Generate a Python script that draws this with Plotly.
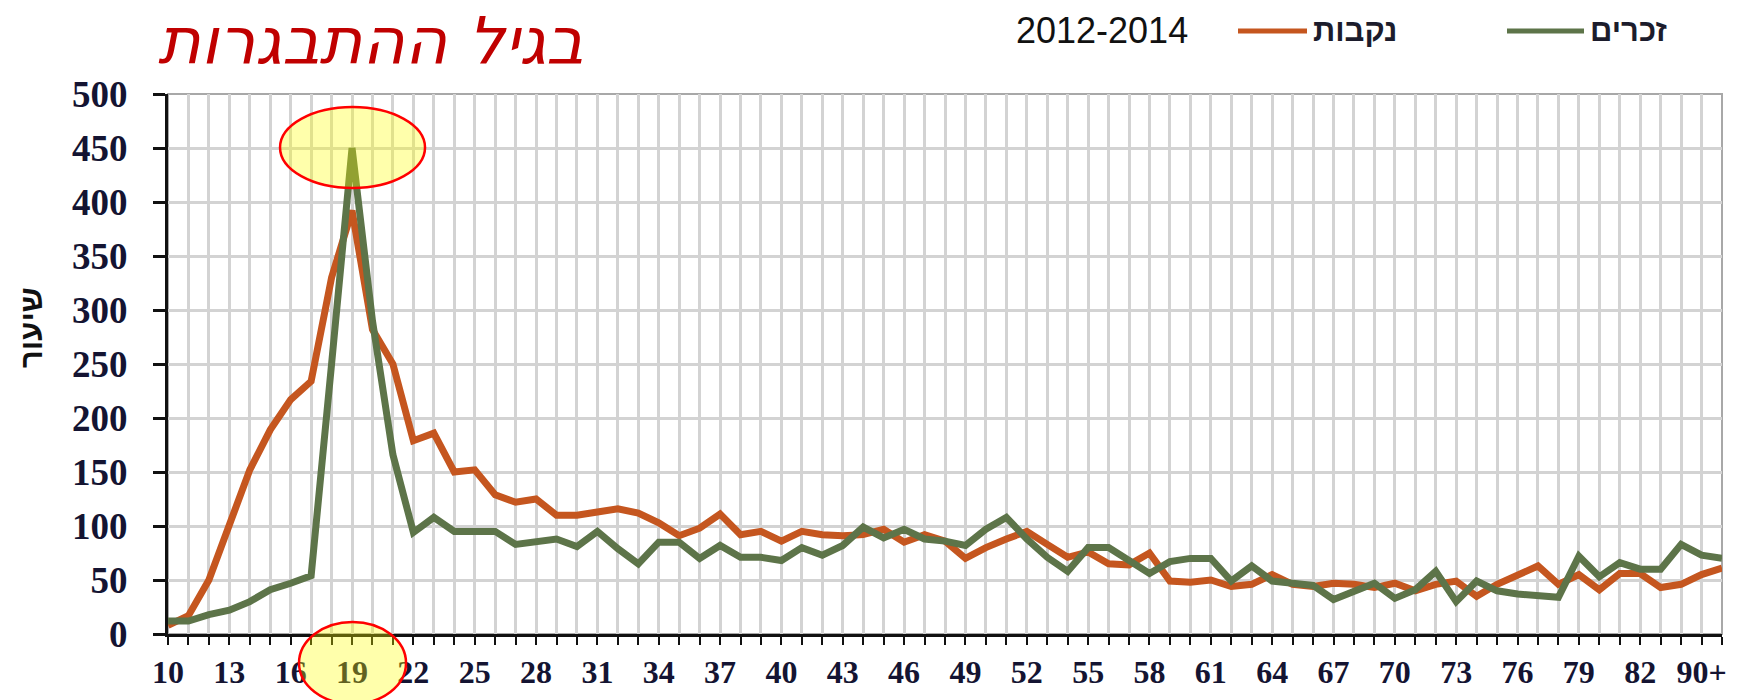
import plotly.graph_objects as go

# --- data -------------------------------------------------------------
ages = ["10", "11", "12", "13", "14", "15", "16", "17", "18", "19",
        "20", "21", "22", "23", "24", "25", "26", "27", "28", "29",
        "30", "31", "32", "33", "34", "35", "36", "37", "38", "39",
        "40", "41", "42", "43", "44", "45", "46", "47", "48", "49",
        "50", "51", "52", "53", "54", "55", "56", "57", "58", "59",
        "60", "61", "62", "63", "64", "65", "66", "67", "68", "69",
        "70", "71", "72", "73", "74", "75", "76", "77", "78", "79",
        "80", "81", "82", "83", "84", "90+", ""]

females = [8, 17, 50, 103, 152, 189, 217, 234, 330, 392,
           282, 250, 179, 186, 150, 152, 129, 122, 125, 110,
           110, 113, 116, 112, 103, 91, 98, 111, 92, 95,
           86, 95, 92, 91, 92, 97, 85, 92, 86, 70,
           80, 88, 95, 83, 71, 76, 65, 64, 75, 49,
           48, 50, 44, 46, 55, 46, 44, 47, 46, 43,
           47, 40, 46, 49, 35, 46, 54, 63, 46, 55,
           41, 56, 56, 43, 46, 55, 61]

males = [12, 12, 18, 22, 30, 41, 47, 54, 250, 450,
         290, 166, 94, 108, 95, 95, 95, 83, 85, 88,
         81, 95, 79, 65, 85, 85, 70, 82, 71, 71,
         68, 80, 73, 82, 99, 89, 97, 88, 86, 82,
         97, 108, 88, 71, 58, 80, 80, 68, 56, 67,
         70, 70, 49, 63, 49, 47, 45, 32, 40, 47,
         33, 41, 58, 30, 49, 40, 37, 35, 34, 72,
         53, 66, 60, 60, 83, 73, 70]

tick_labels = ["10", "13", "16", "19", "22", "25", "28", "31", "34", "37",
               "40", "43", "46", "49", "52", "55", "58", "61", "64", "67",
               "70", "73", "76", "79", "82", "90+"]
tick_every = 3

series_names = ["נקבות", "זכרים"]
period_label = "2012-2014"
title_text = "בגיל ההתבגרות"
y_title = "שיעור"
y_range = [0, 500]
y_step = 50

# --- styles -----------------------------------------------------------
ORANGE = "#C5561F"
GREEN = "#5D7449"
TICK_FONT = "Liberation Serif"
W, H = 1737, 700
ML, MR, MT, MB = 168, 15, 94, 66
PW, PH = W - ML - MR, H - MT - MB


def px_x(px):
    return (px - ML) / PW


def px_y(py):
    return (H - MB - py) / PH


x_idx = list(range(len(ages)))
tick_vals = [x_idx[i * tick_every] for i in range(len(tick_labels))]

fig = go.Figure()
colors = [ORANGE, GREEN]
for name, vals, col in zip(series_names, [females, males], colors):
    fig.add_trace(go.Scatter(x=x_idx, y=vals, mode="lines", name=name,
                             customdata=ages, hovertemplate="%{customdata}: %{y}<extra></extra>",
                             line=dict(color=col, width=7), showlegend=False))

peak_i = max(range(len(males)), key=lambda i: males[i])

# manual legend (lines + labels), placed like the reference
legend_shapes = []
legend_ann = []
legend_line_px = [(1238, 1307), (1507, 1584)]
legend_text_px = [1311, 1588]
for (a, b), tx, name, col in zip(legend_line_px, legend_text_px, series_names, colors):
    legend_shapes.append(dict(type="line", xref="paper", yref="paper",
                              x0=px_x(a), x1=px_x(b), y0=px_y(31), y1=px_y(31),
                              line=dict(color=col, width=5)))
    legend_ann.append(dict(text=name, xref="paper", yref="paper", x=px_x(tx), y=px_y(31),
                           xanchor="left", yanchor="middle", showarrow=False,
                           font=dict(family="Liberation Sans", size=31, color="#1c1c2c",
                                     weight="bold")))

fig.update_layout(
    template="none",
    width=W, height=H, autosize=False,
    margin=dict(l=ML, r=MR, t=MT, b=MB, pad=0),
    paper_bgcolor="white", plot_bgcolor="white",
    showlegend=False,
    xaxis=dict(
        range=[0, len(ages) - 1], tickmode="array", tickvals=tick_vals, ticktext=tick_labels,
        ticks="outside", ticklen=8, tickwidth=2, tickcolor="#111",
        showline=True, linecolor="#111", linewidth=3, automargin=False,
        showgrid=True, gridcolor="#D3D3D3", gridwidth=2.5,
        zeroline=False, ticklabelstandoff=0,
        tickfont=dict(family=TICK_FONT, size=32, color="#141432", weight="bold"),
        minor=dict(dtick=1, tick0=0, ticks="outside", ticklen=8, tickwidth=2, tickcolor="#111",
                   showgrid=True, gridcolor="#D3D3D3", gridwidth=2.5),
    ),
    yaxis=dict(
        range=y_range, dtick=y_step, tick0=0,
        ticks="outside", ticklen=12, tickwidth=2.5, tickcolor="#111",
        showline=True, linecolor="#111", linewidth=3, automargin=False,
        showgrid=True, gridcolor="#D3D3D3", gridwidth=2.5,
        zeroline=False, ticklabelstandoff=18,
        tickfont=dict(family=TICK_FONT, size=37, color="#141432", weight="bold"),
    ),
    shapes=[
        dict(type="rect", xref="paper", yref="paper", x0=0, x1=1, y0=0, y1=1,
             line=dict(color="#A8A8A8", width=2), layer="below"),
        dict(type="circle", xref="x", yref="y", xsizemode="pixel", ysizemode="pixel",
             xanchor=x_idx[peak_i], yanchor=males[peak_i], x0=-72, x1=73, y0=-40, y1=41,
             fillcolor="rgba(255,255,0,0.33)", line=dict(color="#FF0000", width=2.5),
             layer="above"),
        dict(type="circle", xref="x", yref="paper", xsizemode="pixel", ysizemode="pixel",
             xanchor=x_idx[peak_i], yanchor=0, x0=-53, x1=54, y0=-70, y1=12,
             fillcolor="rgba(255,255,0,0.33)", line=dict(color="#FF0000", width=2.5),
             layer="above"),
    ] + legend_shapes,
    annotations=[
        dict(text=title_text, xref="paper", yref="paper", x=px_x(371), y=px_y(41),
             xanchor="center", yanchor="middle", showarrow=False,
             font=dict(family="DejaVu Sans", size=65, color="#C00000", style="italic")),
        dict(text=y_title, xref="paper", yref="paper", x=px_x(31), y=px_y(328),
             xanchor="center", yanchor="middle", showarrow=False, textangle=-90,
             font=dict(family="Liberation Sans", size=31, color="#111", weight="bold")),
        dict(text=period_label, xref="paper", yref="paper", x=px_x(1102), y=px_y(31),
             xanchor="center", yanchor="middle", showarrow=False,
             font=dict(family="Liberation Sans", size=36, color="#111")),
    ] + legend_ann,
)

fig.write_html("out.html", config={"displayModeBar": False},
               post_script="document.body.style.margin='0';")
